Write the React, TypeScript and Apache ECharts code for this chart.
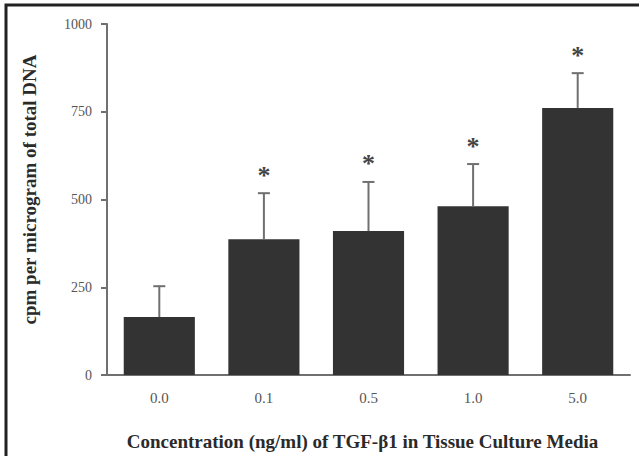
import React, { useEffect, useRef } from "react";
import * as echarts from "echarts";

const categories = ["0.0", "0.1", "0.5", "1.0", "5.0"];
const means = [165, 387, 410, 481, 761];
const errorTops = [253, 518, 550, 601, 860];
const significant = [false, true, true, true, true];
const yTicks = [0, 250, 500, 750, 1000];

const FONT = "'Liberation Serif', 'DejaVu Serif', serif";

export default function App() {
  const ref = useRef<HTMLDivElement>(null);
  useEffect(() => {
    document.body.style.margin = "0";
    const chart = echarts.init(ref.current!, null, { renderer: "svg" });
    const errData = categories.map((_, i) => [i, means[i], errorTops[i], significant[i] ? 1 : 0]);
    chart.setOption({
      animation: false,
      backgroundColor: "#ffffff",
      grid: { left: 107, right: 9, top: 24, bottom: 81 },
      xAxis: {
        type: "category",
        data: categories,
        name: "Concentration (ng/ml) of TGF-β1 in Tissue Culture Media",
        nameLocation: "middle",
        nameGap: 57,
        nameTextStyle: { fontFamily: FONT, fontWeight: "bold", fontSize: 19, color: "#2a2a2a", padding: [0, 12, 0, 0] },
        axisLine: { lineStyle: { color: "#707070", width: 2 } },
        axisTick: { show: false },
        axisLabel: { fontFamily: FONT, fontSize: 15, color: "#555555", margin: 15 },
      },
      yAxis: {
        type: "value",
        min: 0,
        max: yTicks[yTicks.length - 1],
        interval: 250,
        name: "cpm per microgram of total DNA",
        nameLocation: "middle",
        nameGap: 68,
        nameTextStyle: { fontFamily: FONT, fontWeight: "bold", fontSize: 19, color: "#2a2a2a", padding: [0, 0, 0, 20] },
        axisLine: { show: true, lineStyle: { color: "#707070", width: 2 } },
        axisTick: { show: true, length: 6, lineStyle: { color: "#707070", width: 2 } },
        splitLine: { show: false },
        axisLabel: {
          fontFamily: FONT,
          fontSize: 14,
          color: "#555555",
          margin: 15,
          formatter: (v: number) => String(v),
        },
      },
      series: [
        {
          type: "bar",
          data: means,
          barWidth: "68%",
          itemStyle: { color: "#333333" },
          z: 2,
        },
        {
          type: "custom",
          data: errData,
          z: 3,
          renderItem: (params: any, api: any) => {
            const i = api.value(0);
            const base = api.coord([i, api.value(1)]);
            const top = api.coord([i, api.value(2)]);
            const sig = api.value(3);
            const children: any[] = [
              {
                type: "line",
                shape: { x1: base[0], y1: base[1], x2: top[0], y2: top[1] },
                style: { stroke: "#707070", lineWidth: 2 },
              },
              {
                type: "line",
                shape: { x1: top[0] - 6, y1: top[1], x2: top[0] + 6, y2: top[1] },
                style: { stroke: "#707070", lineWidth: 2 },
              },
            ];
            if (sig) {
              children.push({
                type: "text",
                x: top[0],
                y: top[1] - 18,
                style: {
                  text: "*",
                  fontFamily: FONT,
                  fontWeight: "bold",
                  fontSize: 26,
                  fill: "#444",
                  align: "center",
                  verticalAlign: "middle",
                },
              });
            }
            return { type: "group", children };
          },
        },
      ],
      graphic: [
        {
          type: "rect",
          shape: { x: 6, y: 5, width: 700, height: 500 },
          style: { fill: "none", stroke: "#222", lineWidth: 3 },
          silent: true,
        },
      ],
    });
    return () => chart.dispose();
  }, []);
  return <div ref={ref} style={{ width: 639, height: 456 }} />;
}
